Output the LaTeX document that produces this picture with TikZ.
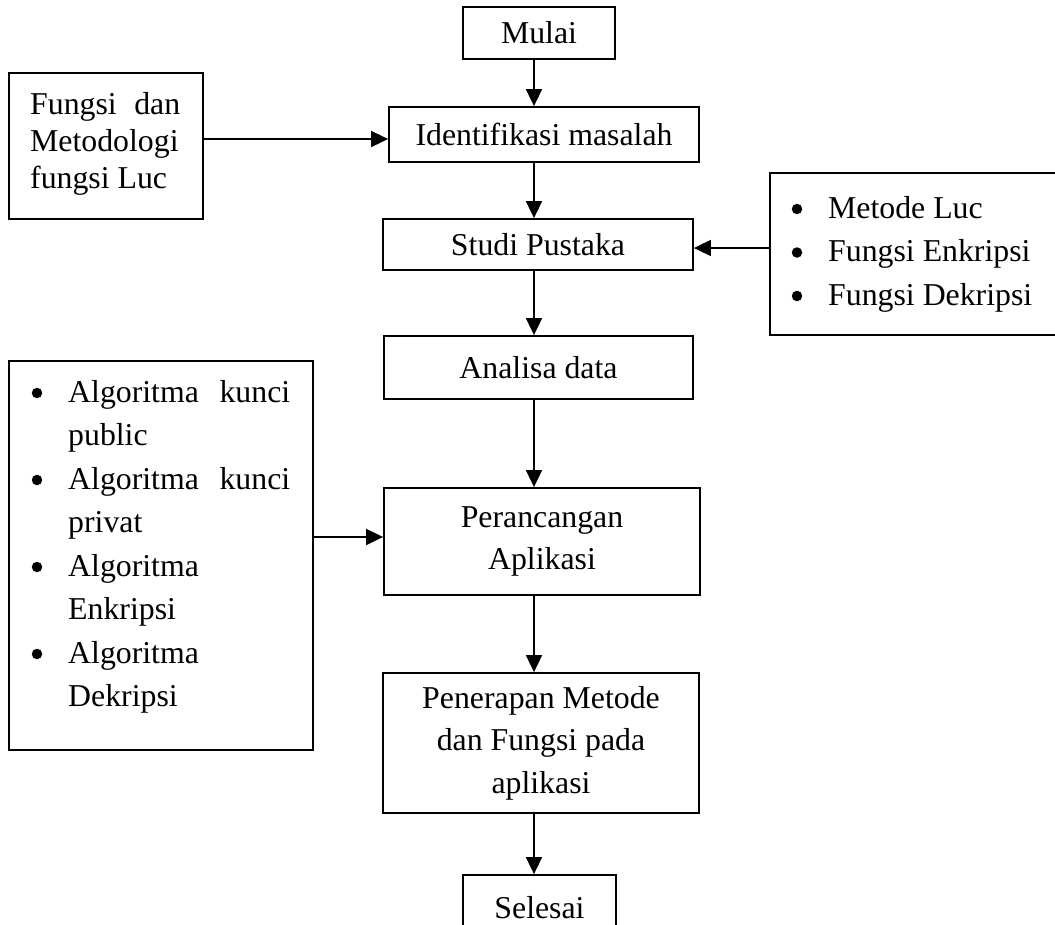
\documentclass[tikz,border=0pt]{standalone}
\usepackage{fontspec}
\setmainfont{Liberation Serif}
\usetikzlibrary{arrows.meta}
\newcommand\diagfont{\fontsize{31.8}{42.5}\selectfont}
\begin{document}
\begin{tikzpicture}[x=1pt,y=-1pt,
  box/.style={draw, line width=1.8pt, inner sep=0pt, align=center, font=\diagfont},
  plainbox/.style={draw, line width=1.8pt, inner sep=0pt},
  txt/.style={inner sep=0pt, anchor=base west, font=\diagfont},
  bul/.style={circle, fill, inner sep=0pt, minimum size=10.5pt},
  arr/.style={line width=1.8pt, -{Triangle[length=17pt,width=16pt]}}]
\useasboundingbox (0,0) rectangle (1055,924);
\clip (0,0) rectangle (1055,924);

% main flow
\node[box, minimum width=152pt, minimum height=52pt] (mulai) at (539,33) {Mulai};
\node[box, minimum width=310pt, minimum height=55pt] (ident) at (544,134.5) {Identifikasi masalah};
\node[box, minimum width=310pt, minimum height=51pt] (studi) at (538,244.5) {Studi Pustaka};
\node[box, minimum width=309pt, minimum height=63pt] (analisa) at (538.5,367.5) {Analisa data};
\node[box, minimum width=316pt, minimum height=107pt] (peran) at (542,541.5) {Perancangan\\Aplikasi};
\node[box, minimum width=316pt, minimum height=140pt] (pener) at (541,743) {Penerapan Metode\\dan Fungsi pada\\aplikasi};
\node[box, minimum width=153pt, minimum height=65pt] (selesai) at (539.5,907.5) {Selesai};

% side boxes
\node[plainbox, minimum width=194pt, minimum height=146pt] (fungsi) at (106,146) {};
\node[plainbox, minimum width=292pt, minimum height=162pt] (kanan) at (916,254) {};
\node[plainbox, minimum width=304pt, minimum height=389pt] (kiri) at (161,555.5) {};

% text of Fungsi box
\node[txt] (f1) at (30,114) {\makebox[150pt][s]{Fungsi dan}};
\node[txt] (f2) at (30,151) {Metodologi};
\node[txt] (f3) at (30,188) {fungsi Luc};

% text of right box
\node[bul] (rb1) at (797,209) {};
\node[txt] (r1) at (828,218) {Metode Luc};
\node[bul] (rb2) at (797,252.5) {};
\node[txt] (r2) at (828,261.5) {Fungsi Enkripsi};
\node[bul] (rb3) at (797,296) {};
\node[txt] (r3) at (828,305) {Fungsi Dekripsi};

% text of left box
\node[bul] (lb1) at (37,393) {};
\node[txt] (l1) at (68,402) {\makebox[222pt][s]{Algoritma kunci}};
\node[txt] (l2) at (68,445.5) {public};
\node[bul] (lb2) at (37,480) {};
\node[txt] (l3) at (68,489) {\makebox[222pt][s]{Algoritma kunci}};
\node[txt] (l4) at (68,532.5) {privat};
\node[bul] (lb3) at (37,567) {};
\node[txt] (l5) at (68,576) {Algoritma};
\node[txt] (l6) at (68,619.5) {Enkripsi};
\node[bul] (lb4) at (37,654) {};
\node[txt] (l7) at (68,663) {Algoritma};
\node[txt] (l8) at (68,706.5) {Dekripsi};

% connectors
\coordinate (ax) at (534,0);
\draw[arr] (mulai.south -| ax) -- (ident.north -| ax);
\draw[arr] (ident.south -| ax) -- (studi.north -| ax);
\draw[arr] (studi.south -| ax) -- (analisa.north -| ax);
\draw[arr] (analisa.south -| ax) -- (peran.north -| ax);
\draw[arr] (peran.south -| ax) -- (pener.north -| ax);
\draw[arr] (pener.south -| ax) -- (selesai.north -| ax);
\coordinate (h1) at (0,139);
\coordinate (h2) at (0,248);
\coordinate (h3) at (0,537);
\draw[arr] (fungsi.east |- h1) -- (ident.west |- h1);
\draw[arr] (kanan.west |- h2) -- (studi.east |- h2);
\draw[arr] (kiri.east |- h3) -- (peran.west |- h3);
\end{tikzpicture}
\end{document}
